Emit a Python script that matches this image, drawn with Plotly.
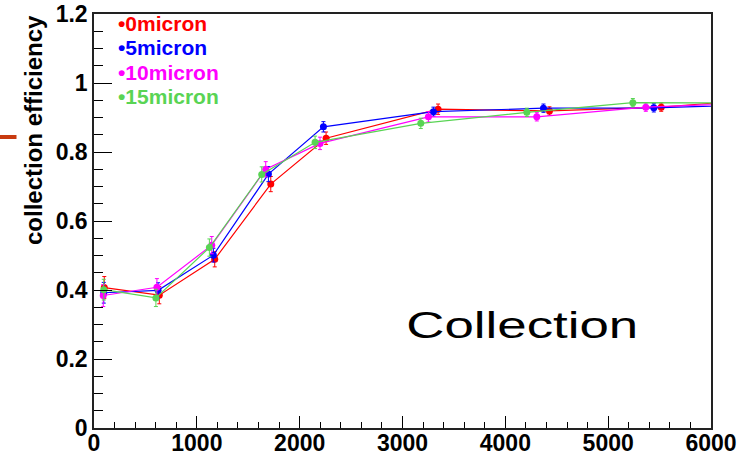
import plotly.graph_objects as go

# Bias voltage (x) and collection efficiency (y) with errors, one set per thickness
volt_0 = [100, 635, 1174, 1719, 2257, 3346, 4429, 5516, 6460]
eff_0 = [0.407, 0.385, 0.489, 0.707, 0.840, 0.924, 0.919, 0.930, 0.952]
err_0 = [0.032, 0.025, 0.022, 0.022, 0.018, 0.015, 0.012, 0.012, 0.012]

volt_5 = [95, 623, 1161, 1696, 2231, 3301, 4371, 5444, 6450]
eff_5 = [0.392, 0.399, 0.501, 0.736, 0.873, 0.917, 0.927, 0.928, 0.9375]
err_5 = [0.030, 0.022, 0.020, 0.022, 0.015, 0.013, 0.012, 0.012, 0.012]

volt_10 = [90, 612, 1145, 1670, 2198, 3252, 4306, 5366, 6440]
eff_10 = [0.384, 0.408, 0.530, 0.750, 0.825, 0.902, 0.902, 0.930, 0.9425]
err_10 = [0.032, 0.025, 0.025, 0.022, 0.018, 0.015, 0.012, 0.012, 0.012]

volt_15 = [95, 602, 1122, 1631, 2150, 3178, 4209, 5240, 6270]
eff_15 = [0.401, 0.377, 0.523, 0.735, 0.828, 0.883, 0.915, 0.943, 0.942]
err_15 = [0.030, 0.025, 0.025, 0.022, 0.018, 0.015, 0.012, 0.012, 0.012]

labels = ["0micron", "5micron", "10micron", "15micron"]
colors = ["#ff0000", "#0000ff", "#ff00ff", "#59d454"]

x_ticks = [0, 1000, 2000, 3000, 4000, 5000, 6000]
y_ticks = [0, 0.2, 0.4, 0.6, 0.8, 1.0, 1.2]
y_ticktext = ["0", "0.2", "0.4", "0.6", "0.8", "1", "1.2"]

series = [
    (volt_0, eff_0, err_0),
    (volt_5, eff_5, err_5),
    (volt_10, eff_10, err_10),
    (volt_15, eff_15, err_15),
]

W, H = 753, 455
ML, MR, MT, MB = 94, 42, 14, 27
PW, PH = W - ML - MR, H - MT - MB


def px_x(p):
    return (p - ML) / PW


def px_y(p):
    return (H - MB - p) / PH


fig = go.Figure()
for (x, y, e), name, c in zip(series, labels, colors):
    fig.add_trace(go.Scatter(
        x=x, y=y, mode="lines+markers", name=name,
        line=dict(color=c, width=1.2),
        marker=dict(color=c, size=7),
        error_y=dict(type="data", array=e, color=c, thickness=1, width=2),
    ))

tick_font = dict(family="Liberation Sans, Arial", size=23, color="black", weight="bold")

fig.update_layout(
    width=W, height=H,
    margin=dict(l=ML, r=MR, t=MT, b=MB, pad=0, autoexpand=False),
    paper_bgcolor="white", plot_bgcolor="white",
    showlegend=False,
    xaxis=dict(
        range=[0, 6000], tickvals=x_ticks, ticks="inside", ticklen=12,
        tickcolor="black", tickwidth=1, showline=True, linecolor="#222",
        linewidth=1.5, mirror=True, showgrid=False, zeroline=False,
        tickfont=tick_font, automargin=False, ticklabelstandoff=-6,
        minor=dict(tick0=0, dtick=200, ticks="inside", ticklen=6,
                   tickcolor="black", tickwidth=1, showgrid=False),
    ),
    yaxis=dict(
        range=[0, 1.2], tickvals=y_ticks, ticktext=y_ticktext,
        ticks="inside", ticklen=18, tickcolor="black", tickwidth=1,
        showline=True, linecolor="#222", linewidth=1.5, mirror=True,
        showgrid=False, zeroline=False, tickfont=tick_font, automargin=False,
        minor=dict(tick0=0, dtick=0.05, ticks="inside", ticklen=9,
                   tickcolor="black", tickwidth=1, showgrid=False),
    ),
)

# y-axis title
fig.add_annotation(
    x=px_x(33), y=px_y(130), xref="paper", yref="paper",
    text="collection efficiency", textangle=-90, showarrow=False,
    font=dict(family="Liberation Sans, Arial", size=24, color="black", weight="bold"),
    xanchor="center", yanchor="middle",
)

# coloured legend entries, one block with tight line spacing
legend_text = "<br>".join(
    "<span style='color:%s;font-size:21px'>\u2022%s</span>" % (c, name)
    for name, c in zip(labels, colors)
)
fig.add_annotation(
    x=px_x(117), y=px_y(11), xref="paper", yref="paper",
    text=legend_text, showarrow=False, align="left",
    font=dict(family="Liberation Sans, Arial", size=18.7, color="black", weight="bold"),
    xanchor="left", yanchor="top", borderpad=0,
)

# panel label
fig.add_annotation(
    x=px_x(522), y=px_y(325), xref="paper", yref="paper",
    text="Collection", showarrow=False,
    font=dict(family="Liberation Sans, Arial", size=37, color="black"),
    xanchor="center", yanchor="middle",
)

# small orange mark at the left edge
fig.add_shape(
    type="line", xref="paper", yref="paper",
    x0=px_x(0), x1=px_x(16.5), y0=px_y(137), y1=px_y(137),
    line=dict(color="#c83a10", width=4),
)

# widen the panel label glyphs horizontally
post = """
document.querySelectorAll('text.annotation-text').forEach(function(t){
  if (t.textContent === 'Collection') {
    t.setAttribute('textLength', '232');
    t.setAttribute('lengthAdjust', 'spacingAndGlyphs');
  }
});
"""

fig.write_html("out.html", post_script=post)
